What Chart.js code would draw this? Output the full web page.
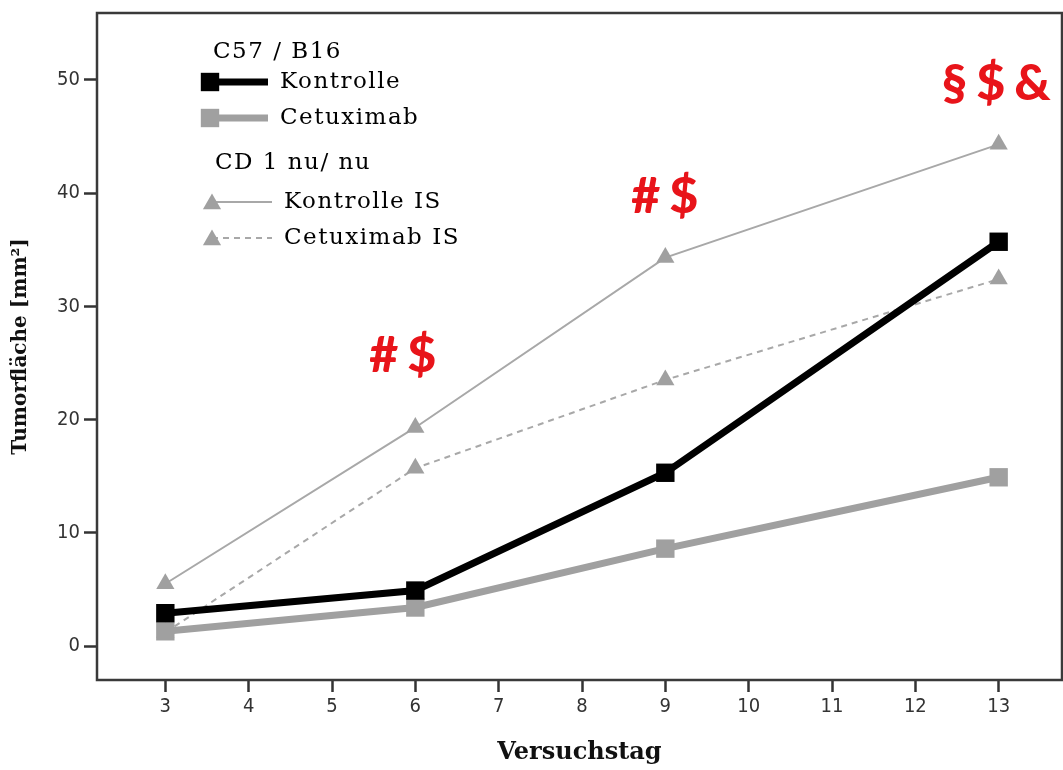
<!DOCTYPE html>
<html>
<head>
<meta charset="utf-8">
<script src="https://cdn.jsdelivr.net/npm/chart.js@4.4.1/dist/chart.umd.min.js"></script>
<style>
  html, body { margin: 0; padding: 0; background: #fff; overflow: hidden; }
  canvas { display: block; }
</style>
</head>
<body>
<canvas id="c" width="1063" height="770"></canvas>
<script>
// Tumour area (mm²) per experiment day
const days = [3, 6, 9, 13];
const kontrolle = [2.9, 4.9, 15.3, 35.7];
const cetuximab = [1.3, 3.4, 8.6, 14.9];
const kontrolleIS = [5.5, 19.3, 34.3, 44.3];
const cetuximabIS = [1.2, 15.7, 23.5, 32.4];

// Axis ticks
const xTicks = [3, 4, 5, 6, 7, 8, 9, 10, 11, 12, 13];
const yTicks = [0, 10, 20, 30, 40, 50];

// Legend groups and series names
const groupHeaders = ['C57 / B16', 'CD 1 nu/ nu'];
const seriesLabels = ['Kontrolle', 'Cetuximab', 'Kontrolle IS', 'Cetuximab IS'];

// Significance notes and the day each refers to
const markTexts = ['#$', '#$', '§$&'];
const markDays = [6, 9, 13];

const BLACK = '#000000';
const GREY = '#a0a0a0';
const GREY_LINE = '#a8a8a8';

function pts(values) {
  return days.map((d, i) => ({ x: d, y: values[i] }));
}

const datasets = [
  {
    label: seriesLabels[0], data: pts(kontrolle), order: 0,
    borderColor: BLACK, backgroundColor: BLACK, borderWidth: 7,
    pointStyle: 'rect', pointRadius: 13, pointBorderWidth: 0, pointBackgroundColor: BLACK
  },
  {
    label: seriesLabels[1], data: pts(cetuximab), order: 1,
    borderColor: GREY, backgroundColor: GREY, borderWidth: 7,
    pointStyle: 'rect', pointRadius: 13, pointBorderWidth: 0, pointBackgroundColor: GREY
  },
  {
    label: seriesLabels[2], data: pts(kontrolleIS), order: 3,
    borderColor: GREY_LINE, backgroundColor: GREY, borderWidth: 2,
    pointStyle: 'triangle', pointRadius: 10.5, pointBorderWidth: 0, pointBackgroundColor: GREY
  },
  {
    label: seriesLabels[3], data: pts(cetuximabIS), order: 2,
    borderColor: GREY_LINE, backgroundColor: GREY, borderWidth: 2, borderDash: [6, 5],
    pointStyle: 'triangle', pointRadius: 10.5, pointBorderWidth: 0, pointBackgroundColor: GREY
  }
];

// Frame around the plotting area
const framePlugin = {
  id: 'frame',
  beforeDatasetsDraw(chart) {
    const { ctx, chartArea: a } = chart;
    ctx.save();
    ctx.strokeStyle = '#3a3a3a';
    ctx.lineWidth = 2.5;
    ctx.strokeRect(a.left, a.top, a.right - a.left, a.bottom - a.top);
    ctx.restore();
  }
};

// Grouped legend with headers for each mouse strain
const legendPlugin = {
  id: 'groupLegend',
  afterDraw(chart) {
    const ctx = chart.ctx;
    const ds = chart.data.datasets;
    ctx.save();
    ctx.font = '23px "DejaVu Serif", serif';
    ctx.fillStyle = '#000';
    ctx.textBaseline = 'middle';
    ctx.textAlign = 'left';
    if ('letterSpacing' in ctx) ctx.letterSpacing = '1.5px';

    ctx.fillText(groupHeaders[0], 213, 52);
    ctx.fillText(groupHeaders[1], 215, 163);

    const rows = [
      { i: 0, y: 82, mx: 210, l0: 210, l1: 268, tx: 280 },
      { i: 1, y: 118, mx: 210, l0: 210, l1: 268, tx: 280 },
      { i: 2, y: 202, mx: 212, l0: 212, l1: 272, tx: 284 },
      { i: 3, y: 238, mx: 212, l0: 212, l1: 272, tx: 284 }
    ];
    rows.forEach(r => {
      const d = ds[r.i];
      ctx.save();
      ctx.strokeStyle = d.borderColor;
      ctx.lineWidth = d.borderWidth;
      ctx.setLineDash(d.borderDash || []);
      ctx.beginPath();
      ctx.moveTo(r.l0, r.y);
      ctx.lineTo(r.l1, r.y);
      ctx.stroke();
      ctx.restore();
      ctx.fillStyle = d.pointBackgroundColor;
      Chart.helpers.drawPoint(ctx, {
        pointStyle: d.pointStyle, radius: d.pointRadius, borderWidth: 0, rotation: 0
      }, r.mx, r.y + (d.pointStyle === 'triangle' ? 2 : 0));
      ctx.fillStyle = '#000';
      ctx.fillText(d.label, r.tx, r.y);
    });
    ctx.restore();
  }
};

// Red significance notes above the curves
const notesPlugin = {
  id: 'notes',
  afterDraw(chart, args, opts) {
    const { ctx, scales } = chart;
    ctx.save();
    ctx.font = '900 50px Lato, "Open Sans", sans-serif';
    ctx.fillStyle = '#e8141a';
    ctx.textAlign = 'center';
    ctx.textBaseline = 'middle';
    if ('letterSpacing' in ctx) ctx.letterSpacing = '9px';
    markTexts.forEach((t, i) => {
      const x = scales.x.getPixelForValue(markDays[i]) + opts.dx[i] + 4;
      const y = scales.y.getPixelForValue(opts.levels[i]);
      ctx.fillText(t, x, y);
    });
    ctx.restore();
  }
};

const tickFont = { family: '"DejaVu Sans Condensed", "DejaVu Sans", sans-serif', size: 20 };

new Chart(document.getElementById('c'), {
  type: 'line',
  data: { datasets },
  options: {
    responsive: false,
    animation: false,
    events: [],
    layout: { autoPadding: false, padding: { top: 13, right: 1, bottom: 0, left: 0 } },
    elements: { line: { tension: 0 } },
    plugins: {
      legend: { display: false },
      tooltip: { enabled: false },
      notes: { levels: [25.6, 39.7, 49.6], dx: [-12, 0, -2] }
    },
    scales: {
      x: {
        type: 'linear',
        min: 2.18,
        max: 13.76,
        afterBuildTicks: s => { s.ticks = xTicks.map(v => ({ value: v })); },
        afterFit: s => { s.height = 90; s.paddingLeft = 0; s.paddingRight = 0; },
        grid: {
          display: true, drawOnChartArea: false, drawTicks: true,
          tickLength: 12, tickWidth: 2.5, tickColor: '#333'
        },
        border: { display: false },
        ticks: { font: tickFont, color: '#333', padding: 3, maxRotation: 0, autoSkip: false },
        title: {
          display: true, text: 'Versuchstag', color: '#111',
          font: { family: '"DejaVu Serif", serif', size: 24, weight: 'bold' },
          padding: { top: 0, bottom: 3 }
        }
      },
      y: {
        type: 'linear',
        min: -3,
        max: 55.9,
        afterBuildTicks: s => { s.ticks = yTicks.map(v => ({ value: v })); },
        afterFit: s => { s.width = 97; s.paddingTop = 0; s.paddingBottom = 0; },
        grid: {
          display: true, drawOnChartArea: false, drawTicks: true,
          tickLength: 13, tickWidth: 2.5, tickColor: '#333'
        },
        border: { display: false },
        ticks: { font: tickFont, color: '#333', padding: 4 },
        title: {
          display: true, text: 'Tumorfläche [mm²]', color: '#111',
          font: { family: '"DejaVu Serif", serif', size: 20, weight: 'bold' },
          padding: { top: 9, bottom: 0 }
        }
      }
    }
  },
  plugins: [framePlugin, legendPlugin, notesPlugin]
});
</script>
</body>
</html>
